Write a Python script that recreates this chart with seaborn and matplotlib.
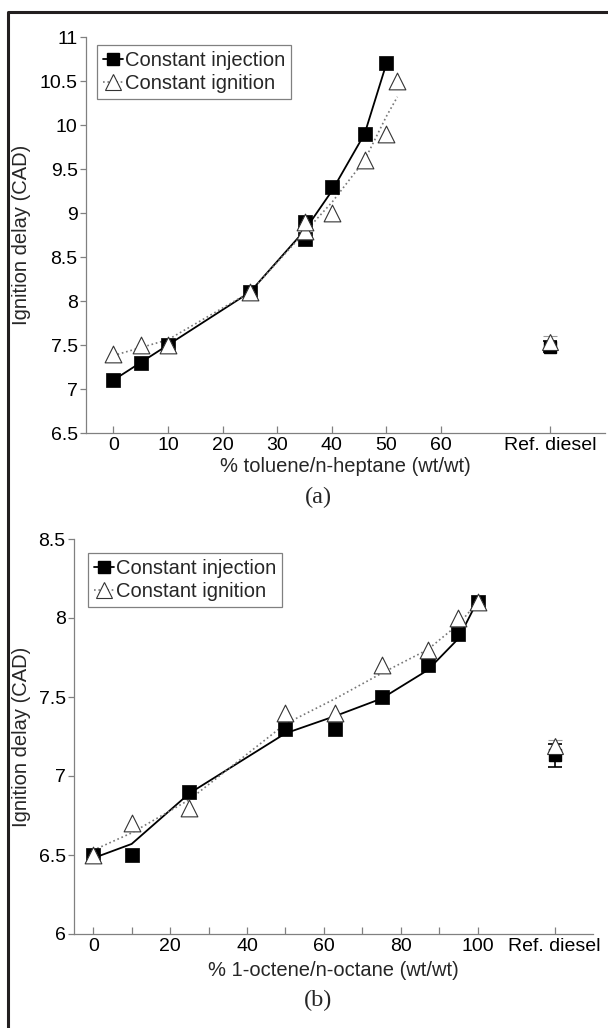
import matplotlib
matplotlib.use("Agg")
import matplotlib.pyplot as plt
from matplotlib.lines import Line2D
from matplotlib.ticker import FuncFormatter
import seaborn as sns

sns.set_style("white")
plt.rcParams["font.family"] = ["Liberation Sans", "DejaVu Sans"]

# ---------------- Panel (a): toluene / n-heptane ----------------
a_inj_x = [0, 5, 10, 25, 35, 35, 40, 46, 50]
a_inj_y = [7.1, 7.3, 7.5, 8.1, 8.7, 8.9, 9.3, 9.9, 10.7]
a_inj_fit_x = [0, 5, 10, 25, 35, 40, 46, 50]
a_inj_fit_y = [7.1, 7.3, 7.5, 8.1, 8.8, 9.25, 9.9, 10.7]
a_ign_x = [0, 5, 10, 25, 35, 35, 40, 46, 50, 52]
a_ign_y = [7.4, 7.5, 7.5, 8.1, 8.8, 8.9, 9.0, 9.6, 9.9, 10.5]
a_ign_fit_x = [0, 5, 10, 25, 35, 40, 46, 50, 52]
a_ign_fit_y = [7.38, 7.47, 7.56, 8.1, 8.78, 9.12, 9.6, 10.1, 10.32]
a_ref_inj = 7.48
a_ref_inj_err = 0.065
a_ref_ign = 7.53
a_ref_ign_err = 0.07
a_ticks = [0, 10, 20, 30, 40, 50, 60, 80]
a_ticklabels = ["0", "10", "20", "30", "40", "50", "60", "Ref. diesel"]
a_yticks = [6.5, 7, 7.5, 8, 8.5, 9, 9.5, 10, 10.5, 11]
a_xlabel = "% toluene/n-heptane (wt/wt)"

# ---------------- Panel (b): 1-octene / n-octane ----------------
b_inj_x = [0, 10, 25, 50, 63, 75, 87, 95, 100]
b_inj_y = [6.5, 6.5, 6.9, 7.3, 7.3, 7.5, 7.7, 7.9, 8.1]
b_inj_fit_y = [6.48, 6.57, 6.89, 7.27, 7.38, 7.49, 7.67, 7.87, 8.11]
b_ign_x = [0, 10, 25, 50, 63, 75, 87, 95, 100]
b_ign_y = [6.5, 6.7, 6.8, 7.4, 7.4, 7.7, 7.8, 8.0, 8.1]
b_ign_fit_y = [6.53, 6.64, 6.85, 7.33, 7.49, 7.65, 7.8, 7.96, 8.1]
b_ref_inj = 7.13
b_ref_inj_err = 0.07
b_ref_ign = 7.19
b_ref_ign_err = 0.035
b_ticks = [0, 20, 40, 60, 80, 100, 120]
b_ticklabels = ["0", "20", "40", "60", "80", "100", "Ref. diesel"]
b_minor = [10, 30, 50, 70, 90]
b_yticks = [6, 6.5, 7, 7.5, 8, 8.5]
b_xlabel = "% 1-octene/n-octane (wt/wt)"

YLABEL = "Ignition delay (CAD)"
LEG_LABELS = ["Constant injection", "Constant ignition"]

GRAY = "#808080"
TRI_EDGE = "#333333"
DOT = "#777777"

fig = plt.figure(figsize=(6.08, 10.28), dpi=100)
W, H = 608.0, 1028.0


def px_axes(left, right, top, bottom):
    return [left / W, 1 - bottom / H, (right - left) / W, (bottom - top) / H]


def draw(ax, inj_x, inj_y, inj_fx, inj_fy, ign_x, ign_y, ign_fx, ign_fy,
         ref_x, r_inj, r_inj_e, r_ign, r_ign_e, xlim, ylim, ticks, labels,
         yticks, xlabel, minor, ylab_x, xlab_y, leg_anchor):
    sns.lineplot(x=inj_fx, y=inj_fy, ax=ax, color="black", lw=1.3,
                 estimator=None, sort=False, zorder=2)
    sns.lineplot(x=ign_fx, y=ign_fy, ax=ax, color=DOT, lw=1.2,
                 linestyle=":", estimator=None, sort=False, zorder=2)
    sns.scatterplot(x=inj_x, y=inj_y, ax=ax, marker="s", s=90,
                    color="black", edgecolor="black", linewidth=0.5, zorder=3)
    sns.scatterplot(x=ign_x, y=ign_y, ax=ax, marker="^", s=145,
                    color="white", edgecolor=TRI_EDGE, linewidth=0.8, zorder=4)
    ax.errorbar([ref_x], [r_inj], yerr=[r_inj_e], fmt="s", ms=9,
                color="black", ecolor="black", elinewidth=1.2, capsize=5,
                capthick=1.2, zorder=3)
    eb = ax.errorbar([ref_x], [r_ign], yerr=[r_ign_e], fmt="^", ms=12,
                     mfc="white", mec=TRI_EDGE, mew=0.8, ecolor="#999999",
                     elinewidth=1.2, capsize=5, capthick=1.2, zorder=4)
    for lc in eb.lines[2]:
        lc.set_linestyle(":")

    ax.set_xlim(*xlim)
    ax.set_ylim(*ylim)
    ax.set_xticks(ticks)
    ax.set_xticklabels(labels)
    if minor:
        ax.set_xticks(minor, minor=True)
    ax.set_yticks(yticks)
    ax.yaxis.set_major_formatter(FuncFormatter(lambda v, p: "%g" % v))
    for s in ["top", "right"]:
        ax.spines[s].set_visible(False)
    for s in ["left", "bottom"]:
        ax.spines[s].set_color(GRAY)
        ax.spines[s].set_linewidth(0.9)
    ax.tick_params(axis="x", which="both", direction="in", length=5,
                   color=GRAY, width=0.9, labelsize=14, pad=3,
                   labelcolor="black", bottom=True)
    ax.tick_params(axis="y", direction="out", length=4, color=GRAY,
                   width=0.9, labelsize=14, pad=2, labelcolor="black",
                   left=True)
    ax.set_ylabel(YLABEL, fontsize=14.5)
    ax.yaxis.set_label_coords(ylab_x, 0.5)
    ax.set_xlabel(xlabel, fontsize=14.5, va="center")
    ax.xaxis.set_label_coords(0.5, xlab_y)

    handles = [
        Line2D([], [], color="black", lw=1.3, marker="s", ms=9,
               mfc="black", mec="black"),
        Line2D([], [], color=DOT, lw=1.2, ls=":", marker="^", ms=12,
               mfc="white", mec=TRI_EDGE, mew=0.8),
    ]
    leg = ax.legend(handles, LEG_LABELS, loc="upper left",
                    bbox_to_anchor=leg_anchor, borderaxespad=0,
                    fontsize=14.5, handlelength=1.0, handletextpad=0.1,
                    borderpad=0.3, labelspacing=0.2, fancybox=False,
                    framealpha=1, edgecolor=GRAY)
    leg.get_frame().set_linewidth(0.9)


ax_a = fig.add_axes(px_axes(86, 605, 37, 433))
draw(ax_a, a_inj_x, a_inj_y, a_inj_fit_x, a_inj_fit_y, a_ign_x, a_ign_y,
     a_ign_fit_x, a_ign_fit_y, 80, a_ref_inj, a_ref_inj_err, a_ref_ign,
     a_ref_ign_err, (-5, 90), (6.5, 11), a_ticks, a_ticklabels, a_yticks,
     a_xlabel, None, (31 - 86) / 519, (433 - 466) / 396,
     ((97 - 86) / 519, (433 - 45) / 396))

ax_b = fig.add_axes(px_axes(74, 593, 539, 934))
draw(ax_b, b_inj_x, b_inj_y, b_ign_x, b_inj_fit_y, b_ign_x, b_ign_y,
     b_ign_x, b_ign_fit_y, 120, b_ref_inj, b_ref_inj_err, b_ref_ign,
     b_ref_ign_err, (-5, 130), (6, 8.5), b_ticks, b_ticklabels, b_yticks,
     b_xlabel, b_minor, (31 - 74) / 519, (934 - 971) / 395,
     ((88 - 74) / 519, (934 - 553) / 395))

fig.text(318 / W, 1 - 497 / H, "(a)", ha="center", va="center",
         family=["Liberation Serif", "DejaVu Serif"], fontsize=17.5)
fig.text(318 / W, 1 - 1000 / H, "(b)", ha="center", va="center",
         family=["Liberation Serif", "DejaVu Serif"], fontsize=17.5)

# outer frame (left and top edges visible in the reference)
fig.add_artist(Line2D([8 / W, 8 / W, 1.0], [0.0, 1 - 12 / H, 1 - 12 / H],
                      transform=fig.transFigure, color="#231f20", lw=2.2))

fig.savefig("out.png", dpi=100)
